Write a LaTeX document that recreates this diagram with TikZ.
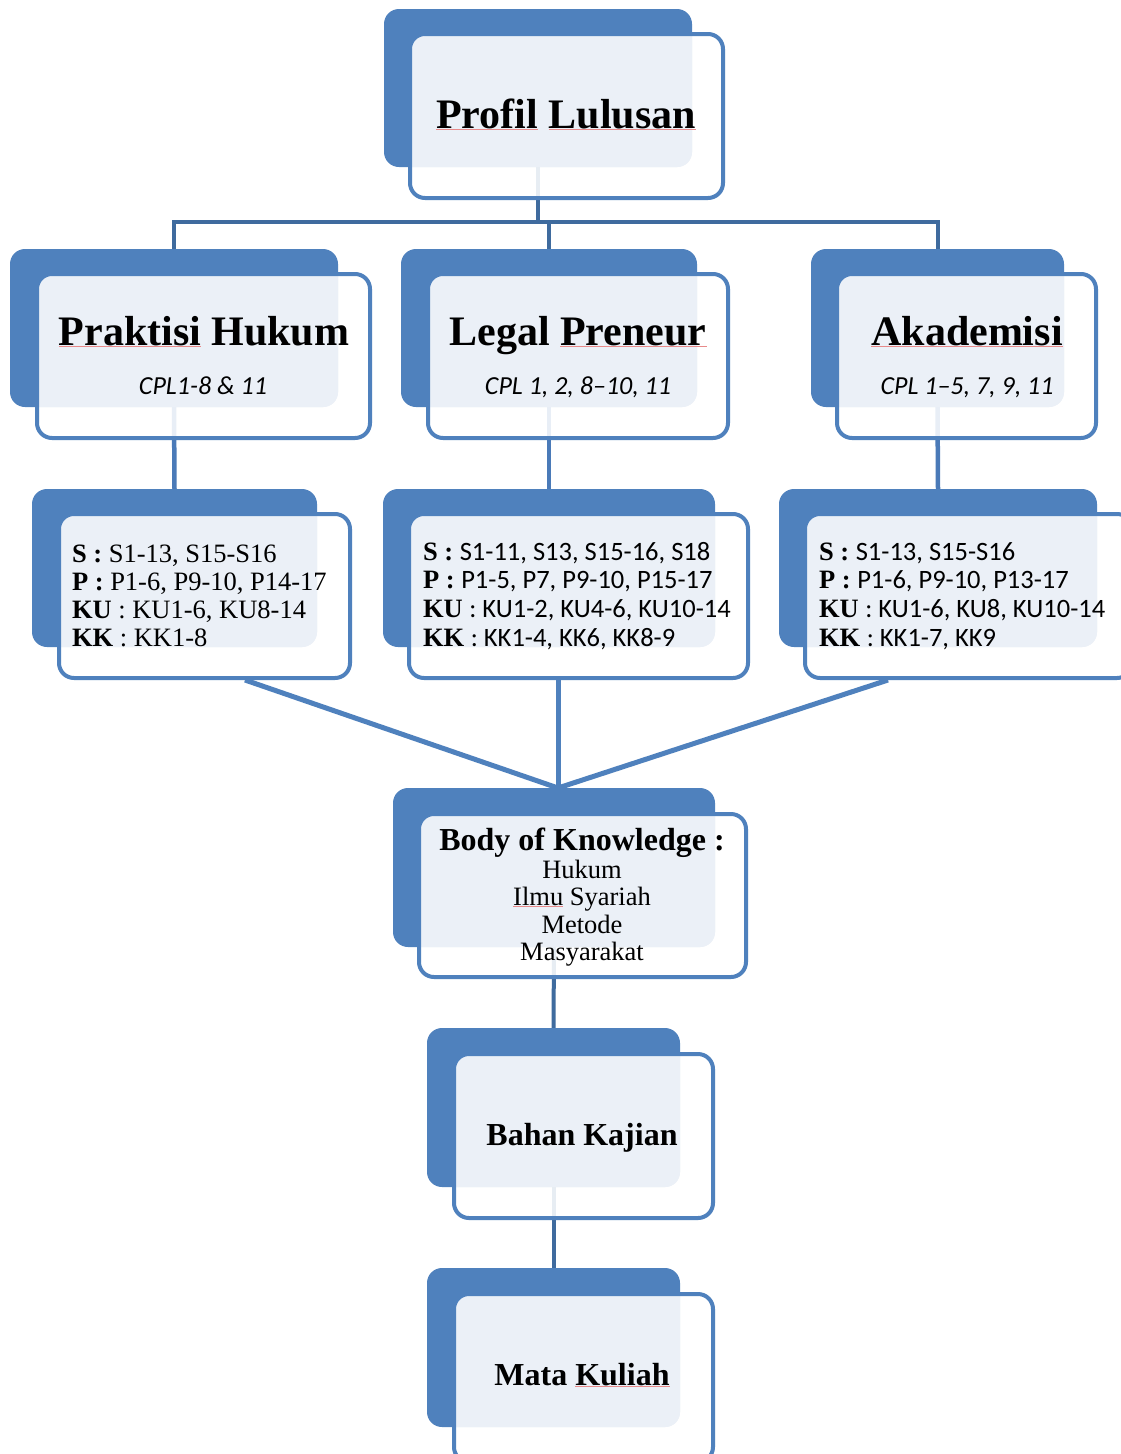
\documentclass[tikz,border=0pt]{standalone}
\usepackage{fontspec}
\setmainfont{Liberation Serif}
\newfontfamily\carl{Carlito}
\definecolor{backblue}{HTML}{4F81BD}
\definecolor{lightfill}{HTML}{EBF0F7}
\definecolor{bordc}{HTML}{4F81BD}
\definecolor{treec}{HTML}{3F6B9E}
\definecolor{stubc}{HTML}{4A7AB8}
\definecolor{convc}{HTML}{4F81BD}
\definecolor{spred}{HTML}{E88A8A}
\newcommand\spl[1]{\setbox0=\hbox{#1}\rlap{\textcolor{spred}{\rule[-2pt]{\wd0}{0.8pt}}}\box0\relax}
\newcommand\mkbox[5]{\node[bx,minimum width={(#4)-(#2)},minimum height={(#5)-(#3)}] (#1) at (#2,#3) {};}
\newcommand\twobox[2]{%
 \fill[backblue,rounded corners=15pt] (#1.north west) rectangle (#1.south east);
 \fill[white,fill opacity=0.88,rounded corners=15pt] (#2.north west) rectangle (#2.south east);
 \begin{scope}
 \clip[rounded corners=15pt] (#1.north west) rectangle (#1.south east);
 \fill[lightfill,rounded corners=15pt] (#2.north west) rectangle (#2.south east);
 \end{scope}
 \draw[bordc,line width=4pt,rounded corners=15pt] (#2.north west) rectangle (#2.south east);}
\begin{document}
\begin{tikzpicture}[x=1pt,y=-1pt,
  bx/.style={inner sep=0pt,outer sep=0pt,draw=none,anchor=north west},
  txt/.style={inner sep=0pt,outer sep=0pt,anchor=base},
  ltxt/.style={inner sep=0pt,outer sep=0pt,anchor=base west,font=\fontsize{26.5}{28}\selectfont},
  title/.style={txt,font=\fontsize{42}{46}\selectfont\bfseries},
  cpl/.style={txt,font=\fontsize{26}{28}\selectfont\carl\itshape},
  treeline/.style={treec,line width=4pt},
  stubline/.style={stubc,line width=4.5pt},
  convline/.style={convc,line width=5pt}]
\useasboundingbox (0,0) rectangle (1121,1454);
\fill[white] (0,0) rectangle (1121,1454);
% box geometry
\mkbox{plb}{384}{9}{692}{167}
\mkbox{plf}{410}{34}{723}{198}
\mkbox{pkb}{10}{249}{338}{407}
\mkbox{pkf}{37}{274}{370}{438}
\mkbox{lpb}{401}{249}{697}{407}
\mkbox{lpf}{428}{274}{728}{438}
\mkbox{akb}{811}{249}{1064}{407}
\mkbox{akf}{837}{274}{1096}{438}
\mkbox{lab}{32}{489}{317}{647}
\mkbox{laf}{59}{514}{350}{678}
\mkbox{lbb}{383}{489}{715}{647}
\mkbox{lbf}{409}{514}{748}{678}
\mkbox{lcb}{779}{489}{1097}{647}
\mkbox{lcf}{805}{514}{1132}{678}
\mkbox{bokb}{393}{788}{715}{947}
\mkbox{bokf}{419}{814}{746}{977}
\mkbox{bkb}{427}{1028}{680}{1187}
\mkbox{bkf}{454}{1054}{713}{1218}
\mkbox{mkb}{427}{1268}{680}{1427}
\mkbox{mkf}{454}{1294}{713}{1462}
\coordinate (bar) at (0,222);
\coordinate (c1) at (245,680);
\coordinate (c2) at (558,680);
\coordinate (c3) at (888,680);
\coordinate (meet) at (558,788);
% connectors
\draw[treeline] (plb.south) -- (plb.south |- bar);
\draw[treeline] (pkb.north) -- (pkb.north |- bar) -- (akb.north |- bar) -- (akb.north);
\draw[treeline] (lpb.north) -- (lpb.north |- bar);
\draw[stubline] (pkb.south) -- (lab.north);
\draw[stubline] (lpb.south) -- (lbb.north);
\draw[stubline] (akb.south) -- (lcb.north);
\draw[convline] (c1) -- (meet);
\draw[convline] (c2) -- (meet);
\draw[convline] (c3) -- (meet);
\draw[treeline] (bokb.south) -- (bkb.north);
\draw[treeline] (bkb.south) -- (mkb.north);
% boxes
\twobox{plb}{plf}
\twobox{pkb}{pkf}
\twobox{lpb}{lpf}
\twobox{akb}{akf}
\twobox{lab}{laf}
\twobox{lbb}{lbf}
\twobox{lcb}{lcf}
\twobox{bokb}{bokf}
\twobox{bkb}{bkf}
\twobox{mkb}{mkf}
% texts
\node[title] (t0) at (566,128) {\spl{Profil} \spl{Lulusan}};
\node[title] (t1) at (204,345) {\spl{Praktisi} Hukum};
\node[cpl] (t1c) at (203,394) {CPL1-8 \& 11};
\node[title] (t2) at (578,345) {Legal \spl{Preneur}};
\node[cpl] (t2c) at (578,394) {CPL 1, 2, 8–10, 11};
\node[title] (t3) at (967,345) {\spl{Akademisi}};
\node[cpl] (t3c) at (967,394) {CPL 1–5, 7, 9, 11};
% level 3 left
\node[ltxt] (a1) at (72,562) {\textbf{S :} S1-13, S15-S16};
\node[ltxt] (a2) at (72,590) {\textbf{P :} P1-6, P9-10, P14-17};
\node[ltxt] (a3) at (72,618) {\textbf{KU} : KU1-6, KU8-14};
\node[ltxt] (a4) at (72,646) {\textbf{KK} : KK1-8};
% level 3 middle
\node[ltxt] (b1) at (423,560) {\textbf{S :} {\carl S1-11, S13, S15-16, S18}};
\node[ltxt] (b2) at (423,588) {\textbf{P :} {\carl P1-5, P7, P9-10, P15-17}};
\node[ltxt] (b3) at (423,617) {\textbf{KU} {\carl : KU1-2, KU4-6, KU10-14}};
\node[ltxt] (b4) at (423,646) {\textbf{KK} {\carl : KK1-4, KK6, KK8-9}};
% level 3 right
\node[ltxt] (r1) at (819,560) {\textbf{S :} {\carl S1-13, S15-S16}};
\node[ltxt] (r2) at (819,588) {\textbf{P :} {\carl P1-6, P9-10, P13-17}};
\node[ltxt] (r3) at (819,617) {\textbf{KU} {\carl : KU1-6, KU8, KU10-14}};
\node[ltxt] (r4) at (819,646) {\textbf{KK} {\carl : KK1-7, KK9}};
% body of knowledge
\node[txt,font=\fontsize{32}{34}\selectfont\bfseries] (k0) at (582,850) {Body of Knowledge :};
\node[txt,font=\fontsize{26.5}{28}\selectfont] (k1) at (582,878) {Hukum};
\node[txt,font=\fontsize{26.5}{28}\selectfont] (k2) at (582,905) {\spl{Ilmu} Syariah};
\node[txt,font=\fontsize{26.5}{28}\selectfont] (k3) at (582,933) {Metode};
\node[txt,font=\fontsize{26.5}{28}\selectfont] (k4) at (582,960) {Masyarakat};
\node[txt,font=\fontsize{32}{34}\selectfont\bfseries] (bk) at (582,1145) {Bahan Kajian};
\node[txt,font=\fontsize{32}{34}\selectfont\bfseries] (mk) at (582,1385) {Mata \spl{Kuliah}};
\end{tikzpicture}
\end{document}
